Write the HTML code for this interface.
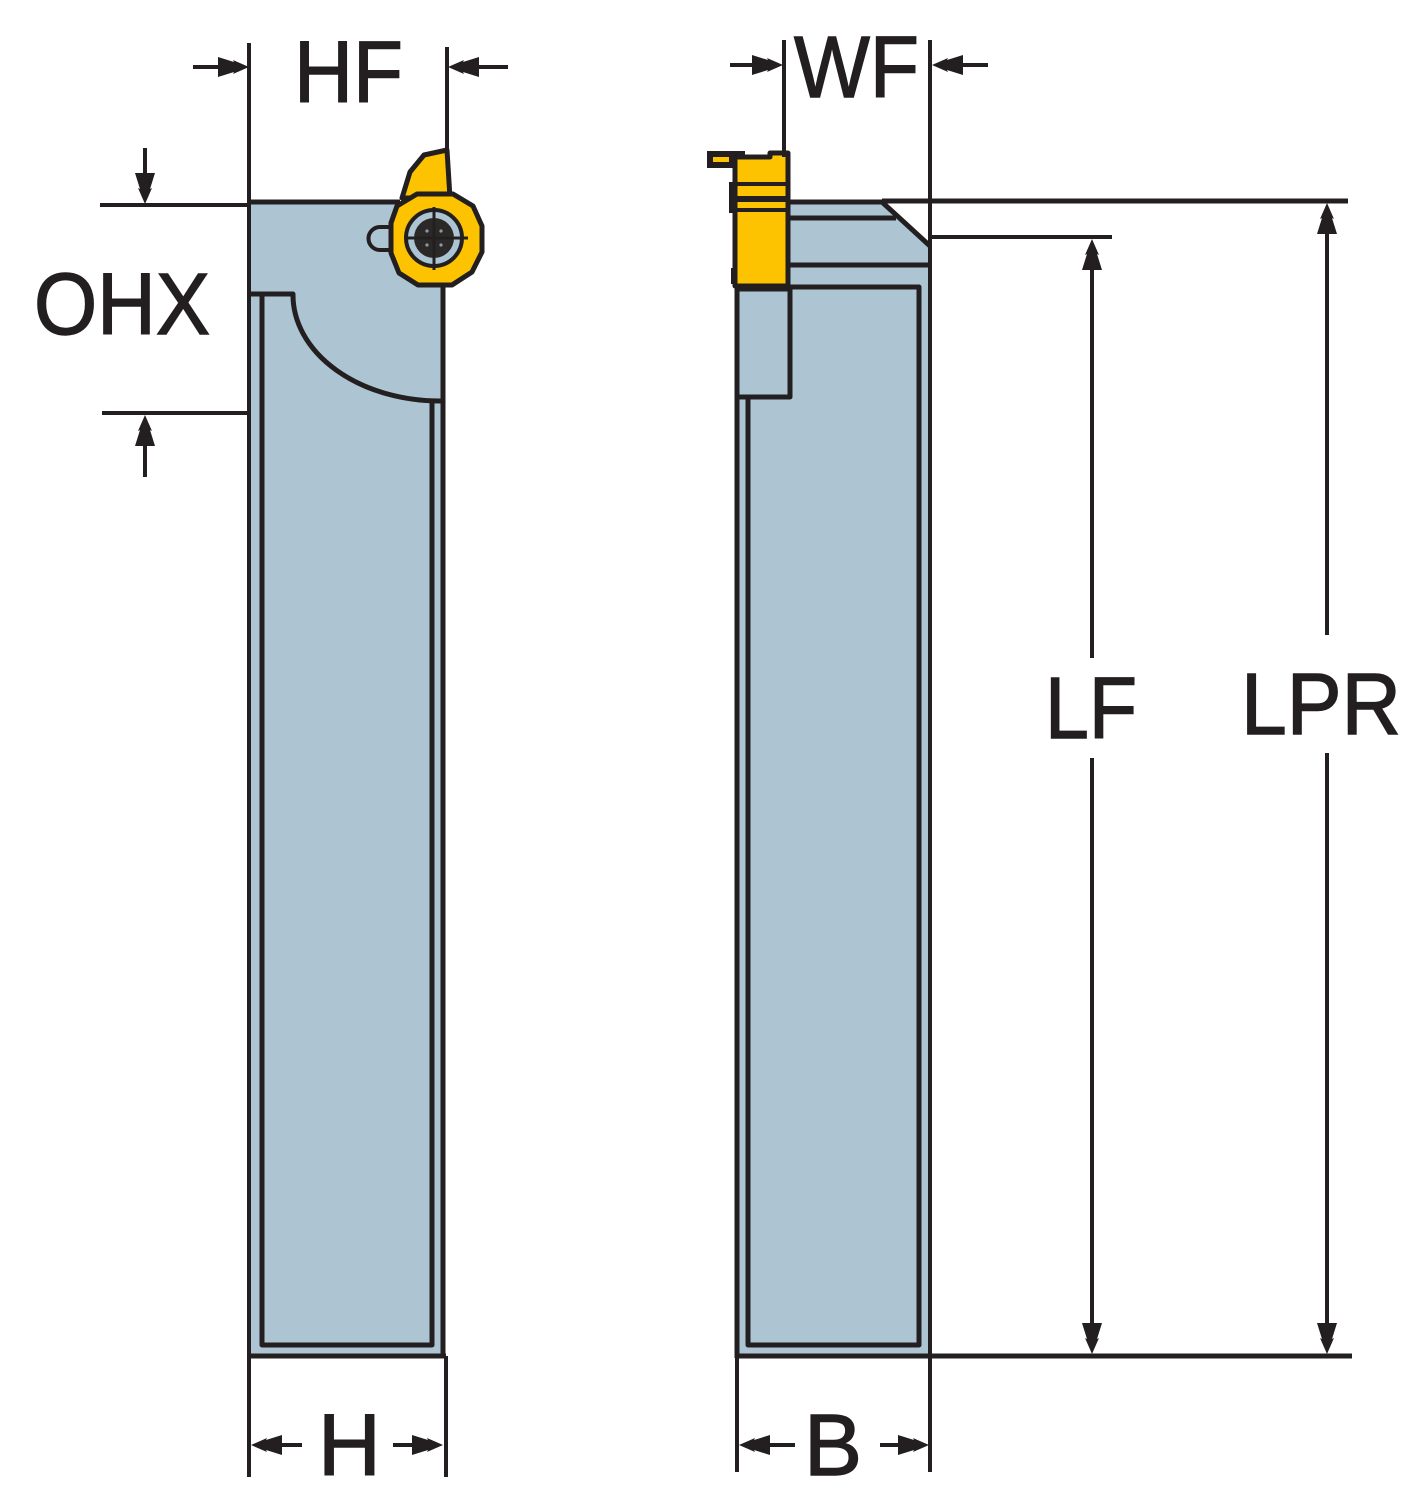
<!DOCTYPE html>
<html>
<head>
<meta charset="utf-8">
<style>
  html,body{margin:0;padding:0;background:#fff;}
  svg{display:block;}
  text{font-family:"Liberation Sans", Arial, sans-serif;font-size:87px;fill:#231f20;stroke:#231f20;stroke-width:1.4px;}
</style>
</head>
<body>
<svg width="1421" height="1500" viewBox="0 0 1421 1500" xmlns="http://www.w3.org/2000/svg">
  <defs>
    <path id="ah" d="M0,0 L-16,-7 L-15,-5 L-31,-10 L-31,10 L-15,5 L-16,7 Z" fill="#231f20"/>
  </defs>

  <!-- ============ LEFT HOLDER ============ -->
  <rect x="250" y="202" width="193" height="1154" fill="#adc4d3"/>
  <g fill="none" stroke="#231f20" stroke-width="5" stroke-linejoin="round">
    <path d="M250,202 H400"/>
    <path d="M443,280 V1358"/>
    <path d="M247,1356 H446"/>
    <path d="M250,294 H293 A147,106 0 0 0 442,401"/>
    <path d="M262,294 V1345 H432 V401"/>
  </g>

  <!-- oval -->
  <path d="M398,227 H380 A11.5,11.5 0 0 0 380,250 H398" fill="#adc4d3" stroke="#231f20" stroke-width="4"/>

  <!-- left insert -->
  <path d="M402,198 L410,172 L424,155 L447,150 L450,198 Z" fill="#fdc300" stroke="#231f20" stroke-width="5" stroke-linejoin="round"/>
  <path d="M397,206 L417,194 L453,194 L473,206 L482,226 L482,252 L472,272 L452,285 L418,285 L399,273 L391,253 L391,223 Z" fill="#fdc300" stroke="#231f20" stroke-width="5" stroke-linejoin="round"/>
  <circle cx="434" cy="238" r="28" fill="#adc4d3" stroke="#231f20" stroke-width="4"/>
  <circle cx="434" cy="238" r="20" fill="#2b2828"/>
  <g fill="#8e9aa3">
    <circle cx="427" cy="231" r="1.6"/><circle cx="441" cy="231" r="1.6"/>
    <circle cx="427" cy="245" r="1.6"/><circle cx="441" cy="245" r="1.6"/>
    <circle cx="434" cy="224" r="1.4"/><circle cx="434" cy="252" r="1.4"/>
    <circle cx="420" cy="238" r="1.4"/><circle cx="448" cy="238" r="1.4"/>
  </g>
  <g stroke="#231f20" stroke-width="3">
    <path d="M434,207 V270"/>
    <path d="M404,238 H468"/>
  </g>

  <!-- ============ RIGHT HOLDER ============ -->
  <path d="M788,202 L882,202 L930,245 L930,1356 L737,1356 L737,285 L788,285 Z" fill="#adc4d3"/>
  <g fill="none" stroke="#231f20" stroke-width="5" stroke-linejoin="round">
    <path d="M786,202 H882 L930,246"/>
    <path d="M790,218 H896"/>
    <path d="M790,265 H930"/>
    <path d="M790,287 H919 V1345 H748 V397"/>
    <path d="M737,285 V1358"/>
    <path d="M735,1356 H932"/>
    <path d="M737,289 H790 V397 H737"/>
  </g>

  <!-- right blade (yellow) -->
  <path d="M707,151 H745 V168 H707 Z" fill="#231f20"/>
  <rect x="713" y="157" width="16" height="5" fill="#fdc300"/>
  <path d="M735,157 L770,157 L770,153 L788,153 L788,286 L735,286 Z" fill="#fdc300" stroke="#231f20" stroke-width="5" stroke-linejoin="round"/>
  <g stroke="#231f20">
    <path d="M735,184 H789" stroke-width="4"/>
    <path d="M735,199 H789" stroke-width="6"/>
    <path d="M735,210 H789" stroke-width="4"/>
    <path d="M731,182 V213" stroke-width="4"/>
    <path d="M733,268 V284" stroke-width="4"/>
  </g>

  <!-- ============ DIMENSION / EXTENSION LINES ============ -->
  <g stroke="#231f20" stroke-width="4" fill="none">
    <!-- HF -->
    <path d="M249,43 V1477"/>
    <path d="M447,47 V152"/>
    <path d="M446,1356 V1477"/>
    <path d="M193,67 H236"/>
    <path d="M508,67 H462"/>
    <!-- OHX -->
    <path d="M100,205 H248"/>
    <path d="M102,413 H248"/>
    <path d="M145,148 V190"/>
    <path d="M145,477 V428"/>
    <!-- WF -->
    <path d="M784,40 V157"/>
    <path d="M930,40 V1472"/>
    <path d="M730,65 H770"/>
    <path d="M988,65 H946"/>
    <!-- LF -->
    <path d="M930,237 H1112"/>
    <path d="M1092,255 V658"/>
    <path d="M1092,758 V1340"/>
    <!-- LPR -->
    <path d="M882,201 H1348" stroke-width="5"/>
    <path d="M1327,220 V635"/>
    <path d="M1327,753 V1340"/>
    <path d="M930,1356 H1352" stroke-width="5"/>
    <!-- H -->
    <path d="M265,1445 H302"/>
    <path d="M393,1445 H430"/>
    <!-- B -->
    <path d="M737,1356 V1472"/>
    <path d="M755,1445 H795"/>
    <path d="M880,1445 H915"/>
  </g>

  <!-- arrowheads -->
  <use href="#ah" transform="translate(249,67)"/>
  <use href="#ah" transform="translate(448,67) rotate(180)"/>
  <use href="#ah" transform="translate(783,65)"/>
  <use href="#ah" transform="translate(932,65) rotate(180)"/>
  <use href="#ah" transform="translate(145,204) rotate(90)"/>
  <use href="#ah" transform="translate(145,415) rotate(-90)"/>
  <use href="#ah" transform="translate(1092,239) rotate(-90)"/>
  <use href="#ah" transform="translate(1092,1354) rotate(90)"/>
  <use href="#ah" transform="translate(1327,203) rotate(-90)"/>
  <use href="#ah" transform="translate(1327,1354) rotate(90)"/>
  <use href="#ah" transform="translate(251,1445) rotate(180)"/>
  <use href="#ah" transform="translate(443,1445)"/>
  <use href="#ah" transform="translate(739,1445) rotate(180)"/>
  <use href="#ah" transform="translate(929,1445)"/>

  <!-- ============ LABELS ============ -->
  <text x="294" y="102" textLength="109" lengthAdjust="spacingAndGlyphs">HF</text>
  <text x="794" y="97" textLength="125" lengthAdjust="spacingAndGlyphs">WF</text>
  <text x="34" y="334" textLength="176" lengthAdjust="spacingAndGlyphs">OHX</text>
  <text x="1045" y="738" textLength="92" lengthAdjust="spacingAndGlyphs">LF</text>
  <text x="1241" y="734" textLength="160" lengthAdjust="spacingAndGlyphs">LPR</text>
  <text x="318" y="1475">H</text>
  <text x="804" y="1475">B</text>
</svg>
</body>
</html>
